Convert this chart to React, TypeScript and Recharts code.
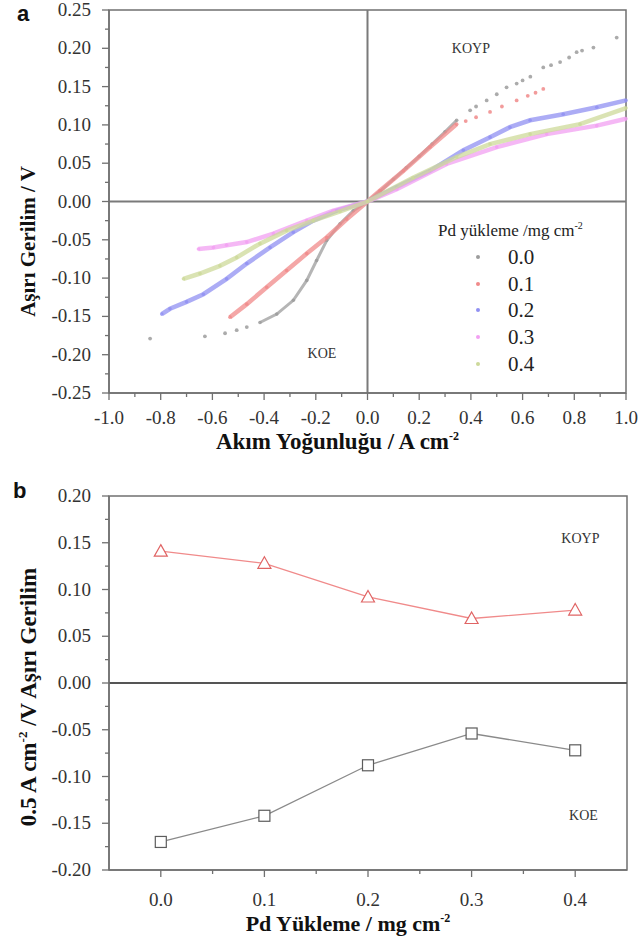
import React from 'react';
import {
  ScatterChart,
  Scatter,
  LineChart,
  Line,
  XAxis,
  YAxis,
  ReferenceLine,
  ReferenceDot,
  ReferenceArea,
} from 'recharts';

type Pt = [number, number];

// panel a: overpotential (V) vs current density (A cm-2), one curve per Pd loading
const load00Curve: Pt[] = [
  [-0.416, -0.158], [-0.351, -0.147], [-0.287, -0.129], [-0.235, -0.103], [-0.197, -0.077],
  [-0.158, -0.051], [-0.106, -0.029], [-0.055, -0.012], [0, 0], [0.05, 0.014], [0.1, 0.029],
  [0.15, 0.044], [0.2, 0.059], [0.25, 0.075], [0.3, 0.091], [0.345, 0.106],
];
const load00Dots: Pt[] = [
  [-0.841, -0.179], [-0.629, -0.176], [-0.551, -0.172], [-0.506, -0.168], [-0.467, -0.164],
  [0.397, 0.119], [0.42, 0.124], [0.461, 0.132], [0.5, 0.14], [0.538, 0.149], [0.577, 0.154],
  [0.6, 0.158], [0.63, 0.163], [0.68, 0.175], [0.71, 0.178], [0.745, 0.182], [0.78, 0.188],
  [0.809, 0.195], [0.83, 0.197], [0.874, 0.201], [0.964, 0.214],
];
const load01Curve: Pt[] = [
  [-0.532, -0.151], [-0.467, -0.134], [-0.39, -0.112], [-0.313, -0.09], [-0.235, -0.068],
  [-0.158, -0.047], [-0.08, -0.023], [0, 0], [0.048, 0.014], [0.139, 0.04], [0.242, 0.071],
  [0.345, 0.101],
];
const load01Dots: Pt[] = [
  [0.38, 0.105], [0.42, 0.11], [0.474, 0.117], [0.52, 0.124], [0.577, 0.132], [0.62, 0.138],
  [0.65, 0.142], [0.68, 0.147],
];
const load02Curve: Pt[] = [
  [-0.796, -0.147], [-0.764, -0.14], [-0.7, -0.131], [-0.635, -0.121], [-0.545, -0.101],
  [-0.467, -0.081], [-0.377, -0.06], [-0.287, -0.04], [-0.21, -0.025], [-0.119, -0.012],
  [0, 0], [0.113, 0.019], [0.242, 0.04], [0.371, 0.067], [0.474, 0.084], [0.551, 0.097],
  [0.629, 0.106], [0.757, 0.114], [0.887, 0.123], [1.0, 0.132],
];
const load03Curve: Pt[] = [
  [-0.654, -0.062], [-0.596, -0.06], [-0.545, -0.057], [-0.467, -0.053], [-0.364, -0.042],
  [-0.235, -0.025], [-0.132, -0.012], [0, 0], [0.113, 0.016], [0.306, 0.049], [0.5, 0.071],
  [0.693, 0.088], [0.887, 0.099], [1.0, 0.108],
];
const load04Curve: Pt[] = [
  [-0.712, -0.101], [-0.648, -0.094], [-0.571, -0.084], [-0.506, -0.073], [-0.416, -0.055],
  [-0.313, -0.038], [-0.21, -0.025], [-0.106, -0.013], [0, 0], [0.176, 0.031], [0.345, 0.058],
  [0.474, 0.075], [0.629, 0.088], [0.822, 0.101], [1.0, 0.122],
];

const loadLabels = ['0.0', '0.1', '0.2', '0.3', '0.4'];
const curvesA = [load00Curve, load01Curve, load02Curve, load03Curve, load04Curve];
const dotsA = [load00Dots, load01Dots];
const loadColors = ['#9c9c9c', '#f08a8a', '#9090f2', '#f2a0f2', '#cdd99a'];

const xTicksA = [-1, -0.9, -0.8, -0.7, -0.6, -0.5, -0.4, -0.3, -0.2, -0.1, 0, 0.1, 0.2, 0.3, 0.4, 0.5, 0.6, 0.7, 0.8, 0.9, 1];
const yTicksA = [
  -0.25, -0.225, -0.2, -0.175, -0.15, -0.125, -0.1, -0.075, -0.05, -0.025, 0,
  0.025, 0.05, 0.075, 0.1, 0.125, 0.15, 0.175, 0.2, 0.225, 0.25,
];

// panel b: overpotential at 0.5 A cm-2 vs Pd loading
const pdLoading = [0.0, 0.1, 0.2, 0.3, 0.4];
const koypOverpotential = [0.141, 0.128, 0.092, 0.069, 0.078];
const koeOverpotential = [-0.17, -0.142, -0.088, -0.054, -0.072];

const xTicksB = [0, 0.05, 0.1, 0.15, 0.2, 0.25, 0.3, 0.35, 0.4];
const yTicksB = [
  -0.2, -0.175, -0.15, -0.125, -0.1, -0.075, -0.05, -0.025, 0,
  0.025, 0.05, 0.075, 0.1, 0.125, 0.15, 0.175, 0.2,
];

const SERIF = "'Liberation Serif', 'Times New Roman', serif";
const AXIS = '#707070';
const TICK_TEXT = '#333';
const TICK_SIZE = 8;

const isMajor = (v: number, step: number) => Math.abs(v / step - Math.round(v / step)) < 1e-6;

function leftTick(step: number, digits: number, margin: number) {
  return (props: any) => {
    const { x, y, payload } = props;
    const v = payload.value as number;
    const major = isMajor(v, step);
    const axisX = x + TICK_SIZE + margin;
    return (
      <g>
        <line x1={axisX - (major ? 7 : 4)} x2={axisX} y1={y} y2={y} stroke={AXIS} strokeWidth={1.3} />
        {major && (
          <text x={x} y={y} dy={6} textAnchor="end" fontSize={19} fill={TICK_TEXT} fontFamily={SERIF}>
            {v.toFixed(digits)}
          </text>
        )}
      </g>
    );
  };
}

function bottomTick(step: number, digits: number, margin: number) {
  return (props: any) => {
    const { x, y, payload } = props;
    const v = payload.value as number;
    const major = isMajor(v, step);
    const axisY = y - TICK_SIZE - margin;
    return (
      <g>
        <line x1={x} x2={x} y1={axisY} y2={axisY + (major ? 7 : 4)} stroke={AXIS} strokeWidth={1.3} />
        {major && (
          <text x={x} y={y} dy={6} textAnchor="middle" fontSize={19} fill={TICK_TEXT} fontFamily={SERIF}>
            {v.toFixed(digits)}
          </text>
        )}
      </g>
    );
  };
}

function XTitle(props: any) {
  const { viewBox, down, shift, size, text } = props;
  const { x, y, width } = viewBox;
  return (
    <text x={x + width / 2 + shift} y={y + down} textAnchor="middle" fontSize={size} fontWeight="bold" fontFamily={SERIF} fill="#111">
      {text}
      <tspan dy={-9} fontSize={12}>-2</tspan>
    </text>
  );
}

function YTitleA(props: any) {
  const { viewBox } = props;
  const cx = viewBox.x + 28;
  const cy = viewBox.y + viewBox.height / 2 + 40;
  return (
    <text x={cx} y={cy} transform={`rotate(-90, ${cx}, ${cy})`} textAnchor="middle" dy={7} fontSize={21} fontWeight="bold" fontFamily={SERIF} fill="#111">
      Aşırı Gerilim / V
    </text>
  );
}

function YTitleB(props: any) {
  const { viewBox } = props;
  const cx = viewBox.x + 28;
  const cy = viewBox.y + viewBox.height / 2 + 14;
  return (
    <text x={cx} y={cy} transform={`rotate(-90, ${cx}, ${cy})`} textAnchor="middle" dy={8} fontSize={23} fontWeight="bold" fontFamily={SERIF} fill="#111">
      0.5 A cm<tspan dy={-9} fontSize={13}>-2</tspan>
      <tspan dy={9}> /V Aşırı Gerilim</tspan>
    </text>
  );
}

const toXY = (pts: Pt[]) => pts.map(([x, y]) => ({ x, y }));

function dotShape(color: string, r: number) {
  return (p: any) => <circle cx={p.cx} cy={p.cy} r={r} fill={color} fillOpacity={0.85} />;
}

function Triangle(props: any) {
  const { cx, cy } = props;
  if (cx == null || cy == null) return null;
  return <path d={`M${cx},${cy - 6.5} L${cx + 6.5},${cy + 5} L${cx - 6.5},${cy + 5} Z`} fill="#fff" stroke="#e06464" strokeWidth={1.2} />;
}

function Square(props: any) {
  const { cx, cy } = props;
  if (cx == null || cy == null) return null;
  return <rect x={cx - 5.5} y={cy - 5.5} width={11} height={11} fill="#fff" stroke="#5c5c5c" strokeWidth={1.2} />;
}

const textLabel = (value: string) => ({ value, position: 'center' as const, fontSize: 14, fill: '#333', fontFamily: SERIF });

function PanelA() {
  return (
    <ScatterChart width={642} height={460} margin={{ top: 10, right: 16, bottom: 17, left: 0 }}>
      <XAxis
        type="number"
        dataKey="x"
        domain={[-1, 1]}
        ticks={xTicksA}
        interval={0}
        tickSize={TICK_SIZE}
        tickMargin={17}
        tickLine={false}
        tick={bottomTick(0.2, 1, 17)}
        height={50}
        axisLine={{ stroke: AXIS, strokeWidth: 1.5 }}
        label={<XTitle down={56} shift={-30} size={23} text="Akım Yoğunluğu / A cm" />}
      />
      <YAxis
        type="number"
        dataKey="y"
        domain={[-0.25, 0.25]}
        ticks={yTicksA}
        interval={0}
        tickSize={TICK_SIZE}
        tickMargin={10}
        tickLine={false}
        tick={leftTick(0.05, 2, 10)}
        width={109}
        axisLine={{ stroke: AXIS, strokeWidth: 1.5 }}
        label={<YTitleA />}
      />
      <ReferenceArea x1={-1} x2={1} y1={-0.25} y2={0.25} fill="none" stroke={AXIS} strokeWidth={1.5} />
      <ReferenceLine x={0} stroke="#7a7a7a" strokeWidth={2} />
      <ReferenceLine y={0} stroke="#7a7a7a" strokeWidth={2} />
      <ReferenceDot x={0.4} y={0.2} r={0} fill="none" stroke="none" label={textLabel('KOYP')} />
      <ReferenceDot x={-0.176} y={-0.198} r={0} fill="none" stroke="none" label={textLabel('KOE')} />
      {dotsA.map((pts, i) => (
        <Scatter
          key={`dots-${loadLabels[i]}`}
          data={toXY(pts)}
          fill={loadColors[i]}
          shape={dotShape(loadColors[i], 1.9)}
          isAnimationActive={false}
        />
      ))}
      {curvesA.map((pts, i) => (
        <Scatter
          key={loadLabels[i]}
          name={loadLabels[i]}
          data={toXY(pts)}
          fill={loadColors[i]}
          line={{ stroke: loadColors[i], strokeWidth: i === 0 ? 3 : 4.5, strokeOpacity: 0.75 }}
          lineType="joint"
          shape={dotShape(loadColors[i], 1.8)}
          isAnimationActive={false}
        />
      ))}
    </ScatterChart>
  );
}

function PanelB() {
  const table = pdLoading.map((load, i) => ({
    load,
    koyp: koypOverpotential[i],
    koe: koeOverpotential[i],
  }));
  return (
    <LineChart width={642} height={472} data={table} margin={{ top: 26, right: 15, bottom: 17, left: 0 }}>
      <XAxis
        type="number"
        dataKey="load"
        domain={[-0.05, 0.45]}
        ticks={xTicksB}
        interval={0}
        tickSize={TICK_SIZE}
        tickMargin={22}
        tickLine={false}
        tick={bottomTick(0.1, 1, 22)}
        height={55}
        axisLine={{ stroke: AXIS, strokeWidth: 1.5 }}
        label={<XTitle down={61} shift={-20} size={22} text="Pd Yükleme / mg cm" />}
      />
      <YAxis
        type="number"
        domain={[-0.2, 0.2]}
        ticks={yTicksB}
        interval={0}
        tickSize={TICK_SIZE}
        tickMargin={10}
        tickLine={false}
        tick={leftTick(0.05, 2, 10)}
        width={109}
        axisLine={{ stroke: AXIS, strokeWidth: 1.5 }}
        label={<YTitleB />}
      />
      <ReferenceArea x1={-0.05} x2={0.45} y1={-0.2} y2={0.2} fill="none" stroke={AXIS} strokeWidth={1.5} />
      <ReferenceLine y={0} stroke="#555" strokeWidth={2} />
      <ReferenceDot x={0.405} y={0.155} r={0} fill="none" stroke="none" label={textLabel('KOYP')} />
      <ReferenceDot x={0.408} y={-0.141} r={0} fill="none" stroke="none" label={textLabel('KOE')} />
      <Line dataKey="koyp" stroke="#f08a8a" strokeWidth={1.3} dot={<Triangle />} activeDot={false} isAnimationActive={false} />
      <Line dataKey="koe" stroke="#8a8a8a" strokeWidth={1.3} dot={<Square />} activeDot={false} isAnimationActive={false} />
    </LineChart>
  );
}

function LoadLegend() {
  return (
    <div style={{ position: 'absolute', left: 438, top: 213, fontFamily: SERIF, color: '#222' }}>
      <div style={{ fontSize: 17, lineHeight: '26px', whiteSpace: 'nowrap' }}>
        Pd yükleme /mg cm<sup style={{ fontSize: 10 }}>-2</sup>
      </div>
      {loadLabels.map((label, i) => (
        <div key={label} style={{ display: 'flex', alignItems: 'center', height: 26.7 }}>
          <svg width={70} height={10}>
            <circle cx={40} cy={5} r={2} fill={loadColors[i]} />
          </svg>
          <span style={{ fontSize: 21, lineHeight: '26px' }}>{label}</span>
        </div>
      ))}
    </div>
  );
}

export default function App() {
  return (
    <div style={{ position: 'absolute', left: 0, top: 0, width: 642, height: 942, background: '#fff' }}>
      <div style={{ position: 'absolute', left: 0, top: 0 }}>
        <PanelA />
      </div>
      <div style={{ position: 'absolute', left: 0, top: 470 }}>
        <PanelB />
      </div>
      <LoadLegend />
      <svg width={642} height={942} style={{ position: 'absolute', left: 0, top: 0, pointerEvents: 'none' }}>
        <text x={17} y={21} fontSize={22} fontWeight="bold" fontFamily="'Liberation Sans', Arial, sans-serif" fill="#111">a</text>
        <text x={13} y={498} fontSize={22} fontWeight="bold" fontFamily="'Liberation Sans', Arial, sans-serif" fill="#111">b</text>
      </svg>
    </div>
  );
}
